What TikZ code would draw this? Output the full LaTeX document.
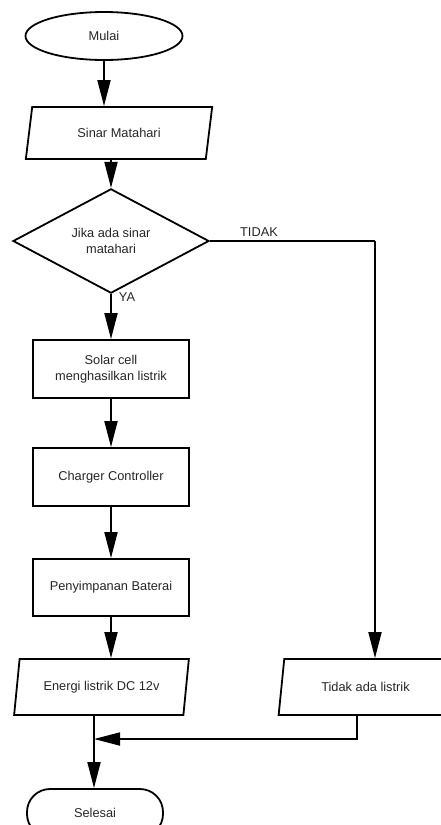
\documentclass[tikz,border=0pt]{standalone}
\usepackage{fontspec}
\setmainfont{Liberation Sans}
\usetikzlibrary{shapes.geometric,arrows.meta}
\begin{document}
\begin{tikzpicture}[x=1pt,y=1pt,
  base/.style={draw, line width=1.8pt, inner sep=0pt, align=center, text=black!85,
    font=\fontsize{12.8}{16}\selectfont},
  term/.style={base, ellipse},
  proc/.style={base, rectangle, minimum width=156pt, minimum height=58pt},
  io/.style={base, trapezium, trapezium stretches=true, trapezium left angle=72, trapezium right angle=108},
  dec/.style={base, diamond, minimum width=196pt, minimum height=72pt},
  stopbox/.style={base, rectangle, rounded corners=23pt, minimum width=136pt, minimum height=48pt},
  lbl/.style={inner sep=0pt, text=black!85, font=\fontsize{12.8}{16}\selectfont},
  ln/.style={line width=1.8pt},
  arr/.style={line width=1.8pt, -{Triangle[length=26pt,width=13pt]}}]
\useasboundingbox (0,0) rectangle (440,-825);
\node[term, minimum width=157pt, minimum height=48pt] (mulai) at (104,-36) {Mulai};
\node[io, minimum width=188pt, minimum height=52pt] (sinar) at (119,-133) {Sinar Matahari};
\node[dec] (jika) at (111,-241) {Jika ada sinar\\matahari};
\node[proc] (solar) at (111,-369) {Solar cell\\menghasilkan listrik};
\node[proc] (charger) at (111,-477) {Charger Controller};
\node[proc, minimum height=57pt] (baterai) at (111,-587.5) {Penyimpanan Baterai};
\node[io, minimum width=175pt, minimum height=56pt] (energi) at (101.5,-687) {Energi listrik DC 12v};
\node[io, minimum width=175pt, minimum height=56pt] (tidak) at (365.5,-687) {Tidak ada listrik};
\node[stopbox] (selesai) at (95,-813) {Selesai};
\node[lbl] (tidaklbl) at (259,-232) {TIDAK};
\node[lbl] (ya) at (127,-297) {YA};
\coordinate (c1) at (375,-241);
\coordinate (t1) at (357,-739);
\coordinate (m) at (94,-739);
\draw[arr] (mulai.south) -- (mulai.south |- sinar.north);
\draw[arr] (jika.north |- sinar.south) -- (jika.north);
\draw[ln] (jika.east) -- (c1);
\draw[arr] (c1) -- (c1 |- tidak.north);
\draw[arr] (jika.south) -- (solar.north);
\draw[arr] (solar.south) -- (charger.north);
\draw[arr] (charger.south) -- (baterai.north);
\draw[arr] (baterai.south) -- (baterai.south |- energi.north);
\draw[arr] (t1 |- tidak.south) -- (t1) -- (m);
\draw[arr] (m |- energi.south) -- (m |- selesai.north);
\end{tikzpicture}
\end{document}
